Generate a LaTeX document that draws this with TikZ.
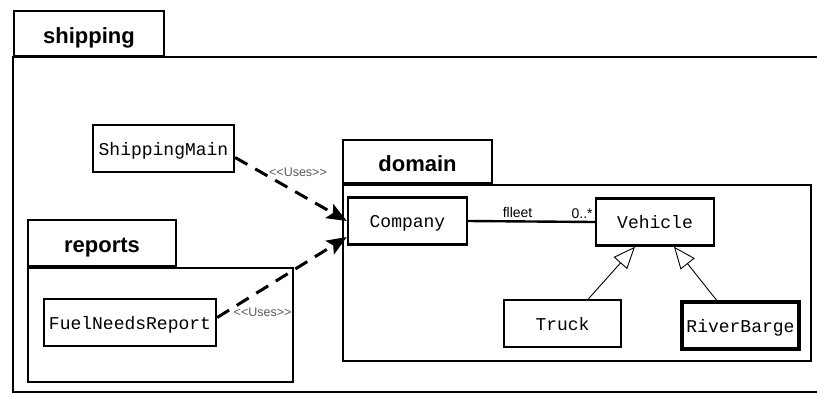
\documentclass[tikz,border=0pt]{standalone}
\usepackage{fontspec}
\setmainfont{Liberation Sans}[Ligatures=TeXOff]
\setmonofont{Liberation Mono}
\usetikzlibrary{arrows.meta}

\begin{document}
\begin{tikzpicture}[x=1pt, y=-1pt, >=Stealth,
  pkg/.style={draw, line width=2.8pt, inner sep=0pt},
  pkg tab/.style={pkg, text height=19pt, text depth=0pt,
    font=\bfseries\fontsize{22}{24}\selectfont},
  class/.style={draw, line width=2.4pt, fill=white, inner sep=0pt,
    text height=13.5pt, text depth=0pt,
    font=\ttfamily\fontsize{18}{20}\selectfont},
  class RiverBarge/.style={line width=3.8pt},
  uses/.style={->, line width=3pt, dash pattern=on 14pt off 9pt,
    >={Stealth[length=20pt, width=16pt, inset=4pt]}},
  uses label/.style={text=black!65, inner sep=1pt,
    font=\fontsize{12.5}{14}\selectfont},
  assoc label/.style={above, inner sep=2.5pt, font=\fontsize{14}{16}\selectfont},
  inherits/.style={-{Triangle[open, length=22pt, width=18pt]}, line width=0.9pt}]
\useasboundingbox (0,0) rectangle (817,394);

% shipping package (runs off the right edge)
\node [pkg tab, minimum width=150, minimum height=45] (shipping-tab) at (89,33.5) {shipping};
\draw [line width=2.8pt] (817,57) -- (13,57) -- (13,392) -- (817,392);

% inner packages
\foreach \p/\x/\y/\w/\h in {domain/417.5/161.5/149/43, reports/102/243/148/46}
  \node [pkg tab, minimum width=\w, minimum height=\h] (\p-tab) at (\x,\y) {\p};
\node [pkg, minimum width=468, minimum height=176] (domain-body) at (577,273) {};
\node [pkg, minimum width=265, minimum height=114] (reports-body) at (160.5,325) {};

% classes
\foreach \c/\x/\y/\w in {ShippingMain/163.5/148.5/141, Company/407.5/221/119,
    Vehicle/655/222/118, Truck/562.5/323.5/117, RiverBarge/740.5/325.5/117,
    FuelNeedsReport/130/322.5/172}
  \node [class, class \c/.try, minimum width=\w, minimum height=47] (\c) at (\x,\y) {\c};

% dependencies
\draw [uses] ([yshift=-9pt]ShippingMain.east) -- (Company.west)
  node [uses label, pos=0.5, xshift=7pt, yshift=17pt] (uses-1) {<\kern0pt<Uses>\kern0pt>};
\draw [uses] ([yshift=5pt]FuelNeedsReport.east) -- ([yshift=-16pt]Company.west)
  node [uses label, pos=0.35, yshift=-23pt] (uses-2) {<\kern0pt<Uses>\kern0pt>};

% association
\draw [line width=2.4pt] (Company.east) -- (Vehicle.west)
  node [assoc label, pos=0.39] (role) {flleet}
  node [assoc label, pos=0.9] (mult) {0..*};

% generalisation
\draw [inherits] ([xshift=26pt]Truck.north) -- ([xshift=-20pt]Vehicle.south);
\draw [inherits] ([xshift=-24pt]RiverBarge.north) -- ([xshift=19pt]Vehicle.south);
\end{tikzpicture}
\end{document}
